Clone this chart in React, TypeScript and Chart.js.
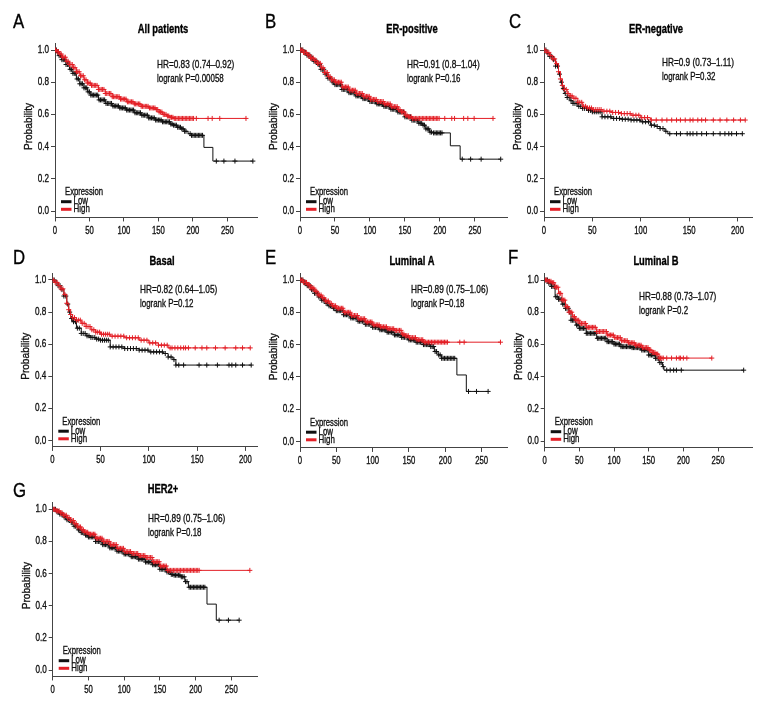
import React, { useEffect, useRef } from 'react';
import { Chart, registerables } from 'chart.js';
Chart.register(...registerables);

const FONT = "'Liberation Sans', Arial, sans-serif";
const RED = '#e31f26';
const BLACK = '#111111';
const AXIS = '#444444';

const Y_TICKS = [0, 0.2, 0.4, 0.6, 0.8, 1.0];
const X_TICKS_250 = [0, 50, 100, 150, 200, 250];
const X_TICKS_200 = [0, 50, 100, 150, 200];

// ---------- A: All patients ----------
const A_HIGH_T = [0, 3, 6, 10, 16, 21, 26, 31, 36, 42, 47, 52, 63, 73, 83, 94, 104, 115, 125, 136, 146, 151, 156, 162, 167, 172];
const A_HIGH_S = [1.0, 0.99, 0.975, 0.955, 0.93, 0.91, 0.89, 0.865, 0.84, 0.815, 0.795, 0.78, 0.755, 0.73, 0.71, 0.695, 0.678, 0.665, 0.65, 0.64, 0.63, 0.615, 0.6, 0.59, 0.582, 0.575];
const A_HIGH_C = [1, 3, 5, 7, 9, 11, 13, 15, 17, 19, 21, 23, 25, 27, 29, 31, 33, 35, 37, 39, 41, 43, 45, 47, 49, 51, 53, 55, 57, 59, 61, 63, 65, 67, 69, 71, 73, 75, 77, 79, 81, 83, 85, 87, 89, 91, 93, 95, 97, 99, 101, 103, 105, 107, 109, 111, 113, 115, 117, 119, 121, 123, 125, 127, 129, 131, 133, 135, 137, 139, 141, 143, 145, 147, 149, 151, 153, 155, 157, 159, 161, 163, 165, 167, 169, 171, 173, 175, 177, 179, 181, 183, 185, 187, 189, 191, 193, 195, 197, 199, 201, 205, 222, 228, 239, 277];
const A_LOW_T = [0, 3, 6, 10, 16, 21, 26, 31, 36, 42, 47, 52, 63, 73, 83, 94, 104, 115, 125, 136, 146, 156, 167, 172, 177, 183, 188, 193, 198, 216, 229];
const A_LOW_S = [1.0, 0.985, 0.965, 0.94, 0.91, 0.88, 0.855, 0.82, 0.79, 0.765, 0.74, 0.72, 0.69, 0.668, 0.652, 0.64, 0.627, 0.61, 0.595, 0.578, 0.565, 0.554, 0.54, 0.533, 0.52, 0.51, 0.495, 0.48, 0.47, 0.395, 0.31];
const A_LOW_C = [2, 4, 6, 8, 10, 12, 14, 16, 18, 20, 22, 24, 26, 28, 30, 32, 34, 36, 38, 40, 42, 44, 46, 48, 50, 52, 54, 56, 58, 60, 62, 64, 66, 68, 70, 72, 74, 76, 78, 80, 82, 84, 86, 88, 90, 92, 94, 96, 98, 100, 102, 104, 106, 108, 110, 112, 114, 116, 118, 120, 122, 124, 126, 128, 130, 132, 134, 136, 138, 140, 142, 144, 146, 148, 150, 152, 154, 156, 158, 160, 162, 164, 166, 168, 170, 172, 174, 176, 178, 180, 182, 184, 186, 188, 190, 196, 198, 200, 202, 204, 206, 208, 210, 212, 214, 234, 245, 261, 287];

// ---------- B: ER-positive ----------
const B_HIGH_T = [0, 5, 10, 15, 20, 25, 30, 35, 40, 45, 50, 60, 70, 80, 90, 100, 110, 120, 130, 140, 145, 150, 155, 160];
const B_HIGH_S = [1.0, 0.985, 0.97, 0.95, 0.935, 0.917, 0.89, 0.86, 0.835, 0.815, 0.8, 0.77, 0.75, 0.73, 0.712, 0.693, 0.68, 0.665, 0.648, 0.63, 0.615, 0.595, 0.585, 0.575];
const B_HIGH_C = [1, 3, 5, 7, 9, 11, 13, 15, 17, 19, 21, 23, 25, 27, 29, 31, 33, 35, 37, 39, 41, 43, 45, 47, 49, 51, 53, 55, 57, 59, 61, 63, 65, 67, 69, 71, 73, 75, 77, 79, 81, 83, 85, 87, 89, 91, 93, 95, 97, 99, 101, 103, 105, 107, 109, 111, 113, 115, 117, 119, 121, 123, 125, 127, 129, 131, 133, 135, 137, 139, 141, 143, 145, 147, 149, 151, 153, 155, 157, 159, 161, 163, 165, 167, 169, 171, 173, 175, 177, 179, 181, 183, 185, 187, 189, 191, 193, 195, 197, 199, 207, 217, 221, 234, 240, 249, 276];
const B_LOW_T = [0, 5, 10, 15, 20, 25, 30, 35, 40, 45, 50, 60, 70, 80, 90, 100, 110, 120, 130, 140, 150, 160, 170, 175, 180, 185, 190, 215, 229];
const B_LOW_S = [1.0, 0.985, 0.968, 0.948, 0.93, 0.91, 0.88, 0.85, 0.825, 0.802, 0.785, 0.755, 0.735, 0.715, 0.698, 0.68, 0.665, 0.65, 0.632, 0.615, 0.585, 0.564, 0.545, 0.533, 0.51, 0.49, 0.485, 0.405, 0.322];
const B_LOW_C = [2, 4, 6, 8, 10, 12, 14, 16, 18, 20, 22, 24, 26, 28, 30, 32, 34, 36, 38, 40, 42, 44, 46, 48, 50, 52, 54, 56, 58, 60, 62, 64, 66, 68, 70, 72, 74, 76, 78, 80, 82, 84, 86, 88, 90, 92, 94, 96, 98, 100, 102, 104, 106, 108, 110, 112, 114, 116, 118, 120, 122, 124, 126, 128, 130, 132, 134, 136, 138, 140, 142, 144, 146, 148, 150, 152, 154, 156, 158, 160, 162, 164, 166, 168, 170, 172, 174, 176, 178, 180, 182, 184, 186, 188, 191, 193, 195, 197, 199, 201, 203, 232, 244, 259, 287];

// ---------- C: ER-negative ----------
const C_HIGH_T = [0, 3, 6, 9, 12, 15, 17, 19, 21, 24, 27, 30, 35, 40, 45, 50, 60, 70, 80, 90, 100, 110];
const C_HIGH_S = [1.0, 0.985, 0.965, 0.945, 0.915, 0.865, 0.82, 0.78, 0.755, 0.73, 0.715, 0.7, 0.675, 0.65, 0.64, 0.63, 0.62, 0.612, 0.605, 0.595, 0.58, 0.565];
const C_HIGH_C = [1, 3, 5, 7, 9, 11, 13, 15, 17, 19, 21, 23, 25, 27, 29, 31, 33, 35, 37, 39, 41, 43, 45, 47, 49, 51, 53, 55, 57, 59, 62, 65, 68, 71, 74, 77, 80, 83, 86, 89, 92, 95, 98, 101, 104, 107, 111, 116, 122, 127, 132, 137, 141, 146, 151, 154, 159, 163, 167, 175, 182, 189, 196, 203, 208];
const C_LOW_T = [0, 3, 6, 9, 12, 15, 17, 19, 21, 24, 27, 30, 35, 40, 45, 50, 60, 70, 80, 90, 100, 110, 115, 120, 125, 128];
const C_LOW_S = [1.0, 0.98, 0.96, 0.94, 0.9, 0.85, 0.8, 0.76, 0.73, 0.705, 0.685, 0.668, 0.65, 0.637, 0.625, 0.616, 0.585, 0.575, 0.57, 0.565, 0.554, 0.533, 0.525, 0.512, 0.495, 0.48];
const C_LOW_C = [2, 4, 6, 8, 10, 12, 14, 16, 18, 20, 22, 24, 26, 28, 30, 32, 34, 36, 38, 40, 42, 44, 46, 48, 50, 52, 54, 56, 58, 60, 63, 66, 69, 72, 75, 78, 81, 84, 87, 90, 93, 96, 99, 102, 105, 108, 111, 114, 117, 120, 123, 126, 130, 137, 141, 148, 151, 154, 158, 163, 168, 175, 182, 187, 191, 194, 199, 205];

// ---------- D: Basal ----------
const D_HIGH_T = [0, 3, 6, 9, 12, 15, 17, 19, 21, 25, 30, 35, 40, 45, 50, 60, 75, 90, 100, 110, 120];
const D_HIGH_S = [1.0, 0.985, 0.965, 0.945, 0.91, 0.855, 0.815, 0.785, 0.765, 0.75, 0.73, 0.71, 0.69, 0.675, 0.662, 0.65, 0.64, 0.625, 0.608, 0.594, 0.577];
const D_HIGH_C = [1, 3, 5, 7, 9, 11, 13, 15, 17, 19, 21, 23, 25, 27, 29, 31, 33, 35, 37, 39, 41, 43, 45, 47, 49, 51, 53, 55, 57, 59, 62, 65, 68, 71, 74, 77, 80, 83, 86, 89, 92, 95, 98, 101, 104, 107, 110, 113, 116, 119, 122, 124, 127, 130, 133, 136, 138, 141, 148, 155, 160, 169, 179, 190, 197, 205];
const D_LOW_T = [0, 3, 6, 9, 12, 15, 17, 19, 21, 25, 30, 35, 40, 45, 50, 60, 75, 90, 100, 115, 120, 125, 128];
const D_LOW_S = [1.0, 0.985, 0.965, 0.94, 0.9, 0.85, 0.8, 0.76, 0.74, 0.7, 0.667, 0.652, 0.642, 0.632, 0.625, 0.583, 0.573, 0.563, 0.552, 0.542, 0.52, 0.504, 0.47];
const D_LOW_C = [2, 4, 6, 8, 10, 12, 14, 16, 18, 20, 22, 24, 26, 28, 30, 32, 34, 36, 38, 40, 42, 44, 46, 48, 50, 52, 54, 56, 58, 60, 63, 66, 69, 72, 75, 78, 81, 84, 87, 90, 93, 96, 99, 102, 105, 108, 111, 114, 117, 120, 123, 126, 128, 131, 136, 152, 160, 171, 183, 186, 190, 197, 206];

// ---------- E: Luminal A ----------
const E_HIGH_T = [0, 5, 10, 15, 20, 25, 30, 35, 40, 45, 50, 60, 70, 80, 90, 100, 110, 120, 130, 140, 145, 150, 160, 170];
const E_HIGH_S = [1.0, 0.985, 0.97, 0.95, 0.93, 0.907, 0.89, 0.87, 0.855, 0.84, 0.825, 0.8, 0.78, 0.76, 0.74, 0.722, 0.71, 0.698, 0.688, 0.665, 0.655, 0.643, 0.63, 0.615];
const E_HIGH_C = [1, 3, 5, 7, 9, 11, 13, 15, 17, 19, 21, 23, 25, 27, 29, 31, 33, 35, 37, 39, 41, 43, 45, 47, 49, 51, 53, 55, 57, 59, 61, 63, 65, 67, 69, 71, 73, 75, 77, 79, 81, 83, 85, 87, 89, 91, 93, 95, 97, 99, 101, 103, 105, 107, 109, 111, 113, 115, 117, 119, 121, 123, 125, 127, 129, 131, 133, 135, 137, 139, 141, 143, 145, 147, 149, 151, 153, 155, 157, 159, 161, 163, 165, 167, 169, 171, 173, 175, 177, 179, 181, 183, 185, 187, 189, 191, 193, 195, 197, 199, 201, 203, 220, 226, 276];
const E_LOW_T = [0, 5, 10, 15, 20, 25, 30, 35, 40, 45, 50, 60, 70, 80, 90, 100, 110, 120, 130, 140, 150, 160, 170, 180, 185, 190, 195, 216, 229];
const E_LOW_S = [1.0, 0.983, 0.965, 0.94, 0.918, 0.895, 0.875, 0.855, 0.84, 0.825, 0.81, 0.785, 0.765, 0.745, 0.726, 0.707, 0.692, 0.677, 0.66, 0.645, 0.629, 0.615, 0.6, 0.588, 0.557, 0.536, 0.515, 0.412, 0.31];
const E_LOW_C = [2, 4, 6, 8, 10, 12, 14, 16, 18, 20, 22, 24, 26, 28, 30, 32, 34, 36, 38, 40, 42, 44, 46, 48, 50, 52, 54, 56, 58, 60, 62, 64, 66, 68, 70, 72, 74, 76, 78, 80, 82, 84, 86, 88, 90, 92, 94, 96, 98, 100, 102, 104, 106, 108, 110, 112, 114, 116, 118, 120, 122, 124, 126, 128, 130, 132, 134, 136, 138, 140, 142, 144, 146, 148, 150, 152, 154, 156, 158, 160, 162, 164, 166, 168, 170, 172, 174, 176, 178, 180, 182, 184, 186, 188, 191, 193, 195, 197, 199, 201, 203, 205, 207, 209, 211, 213, 232, 243, 259];

// ---------- F: Luminal B ----------
const F_HIGH_T = [0, 5, 10, 15, 20, 25, 30, 35, 40, 45, 50, 60, 75, 90, 100, 110, 120, 130, 140, 150, 155, 160, 165];
const F_HIGH_S = [1.0, 0.992, 0.983, 0.955, 0.917, 0.875, 0.834, 0.8, 0.772, 0.75, 0.73, 0.706, 0.68, 0.658, 0.642, 0.623, 0.61, 0.595, 0.58, 0.565, 0.55, 0.54, 0.515];
const F_HIGH_C = [1, 3, 5, 7, 9, 11, 13, 15, 17, 19, 21, 23, 25, 27, 29, 31, 33, 35, 37, 39, 41, 43, 45, 47, 49, 51, 53, 55, 57, 59, 61, 63, 65, 67, 69, 71, 73, 75, 77, 79, 81, 83, 85, 87, 89, 91, 93, 95, 97, 99, 101, 103, 105, 107, 109, 111, 113, 115, 117, 119, 121, 123, 125, 127, 129, 131, 133, 135, 137, 139, 141, 143, 145, 147, 149, 151, 153, 155, 157, 159, 161, 163, 165, 167, 169, 171, 176, 183, 190, 194, 196, 200, 205, 241];
const F_LOW_T = [0, 5, 10, 15, 20, 25, 30, 35, 38, 45, 50, 60, 75, 90, 100, 110, 125, 140, 150, 160, 165, 170, 172];
const F_LOW_S = [1.0, 0.98, 0.96, 0.896, 0.88, 0.85, 0.824, 0.8, 0.75, 0.72, 0.7, 0.669, 0.638, 0.617, 0.602, 0.586, 0.58, 0.565, 0.534, 0.513, 0.487, 0.462, 0.44];
const F_LOW_C = [2, 4, 6, 8, 10, 12, 14, 16, 18, 20, 22, 24, 26, 28, 30, 32, 34, 36, 38, 40, 42, 44, 46, 48, 50, 52, 54, 56, 58, 60, 62, 64, 66, 68, 70, 72, 74, 76, 78, 80, 82, 84, 86, 88, 90, 92, 94, 96, 98, 100, 102, 104, 106, 108, 110, 112, 114, 116, 118, 120, 122, 124, 126, 128, 130, 132, 134, 136, 138, 140, 142, 144, 146, 148, 150, 152, 154, 156, 158, 160, 162, 164, 166, 168, 171, 176, 181, 186, 190, 197, 287];

// ---------- G: HER2+ ----------
const G_HIGH_T = [0, 5, 10, 15, 20, 25, 30, 35, 40, 45, 50, 60, 70, 80, 90, 100, 110, 120, 130, 140, 150, 160];
const G_HIGH_S = [1.0, 0.99, 0.978, 0.963, 0.948, 0.93, 0.91, 0.89, 0.872, 0.857, 0.845, 0.82, 0.8, 0.78, 0.757, 0.737, 0.725, 0.712, 0.7, 0.674, 0.647, 0.62];
const G_HIGH_C = [1, 3, 5, 7, 9, 11, 13, 15, 17, 19, 21, 23, 25, 27, 29, 31, 33, 35, 37, 39, 41, 43, 45, 47, 49, 51, 53, 55, 57, 59, 61, 63, 65, 67, 69, 71, 73, 75, 77, 79, 81, 83, 85, 87, 89, 91, 93, 95, 97, 99, 101, 103, 105, 107, 109, 111, 113, 115, 117, 119, 121, 123, 125, 127, 129, 131, 133, 135, 137, 139, 141, 143, 145, 147, 149, 151, 153, 155, 157, 159, 161, 163, 165, 167, 169, 171, 173, 175, 177, 179, 181, 183, 185, 187, 189, 191, 193, 195, 197, 199, 201, 203, 205, 276];
const G_LOW_T = [0, 5, 10, 15, 20, 25, 30, 35, 40, 45, 50, 60, 70, 80, 90, 100, 110, 120, 130, 140, 150, 160, 165, 170, 180, 185, 190, 216, 229];
const G_LOW_S = [1.0, 0.985, 0.97, 0.952, 0.935, 0.918, 0.895, 0.872, 0.855, 0.84, 0.828, 0.8, 0.78, 0.76, 0.74, 0.722, 0.705, 0.69, 0.672, 0.655, 0.627, 0.61, 0.595, 0.59, 0.58, 0.55, 0.515, 0.41, 0.31];
const G_LOW_C = [2, 4, 6, 8, 10, 12, 14, 16, 18, 20, 22, 24, 26, 28, 30, 32, 34, 36, 38, 40, 42, 44, 46, 48, 50, 52, 54, 56, 58, 60, 62, 64, 66, 68, 70, 72, 74, 76, 78, 80, 82, 84, 86, 88, 90, 92, 94, 96, 98, 100, 102, 104, 106, 108, 110, 112, 114, 116, 118, 120, 122, 124, 126, 128, 130, 132, 134, 136, 138, 140, 142, 144, 146, 148, 150, 152, 154, 156, 158, 160, 162, 164, 166, 168, 170, 172, 174, 176, 178, 180, 182, 184, 186, 188, 191, 193, 195, 197, 199, 201, 203, 205, 207, 209, 211, 213, 233, 246, 261];

type Curve = { t: number[]; s: number[]; c: number[] };

type PanelCfg = {
  key: string; title: string; hr: string; lr: string;
  high: Curve; low: Curve; xmax: number; xticks: number[];
  // layout (page coordinates)
  cx: number; cy: number; cw: number; ch: number;
  L: number; R: number; y1: number; y0: number;
  letterX: number; letterY: number; titleX: number; titleY: number; hrX: number; hrY: number;
};

const PANELS: PanelCfg[] = [
  { key: 'A', title: 'All patients', hr: 'HR=0.83 (0.74\u20130.92)', lr: 'logrank P=0.00058',
    high: { t: A_HIGH_T, s: A_HIGH_S, c: A_HIGH_C }, low: { t: A_LOW_T, s: A_LOW_S, c: A_LOW_C }, xmax: 293, xticks: X_TICKS_250,
    cx: 0, cy: 0, cw: 262, ch: 240, L: 55, R: 258, y1: 50, y0: 211,
    letterX: 13, letterY: 22, titleX: 163, titleY: 30, hrX: 157, hrY: 65 },
  { key: 'B', title: 'ER-positive', hr: 'HR=0.91 (0.8\u20131.04)', lr: 'logrank P=0.16',
    high: { t: B_HIGH_T, s: B_HIGH_S, c: B_HIGH_C }, low: { t: B_LOW_T, s: B_LOW_S, c: B_LOW_C }, xmax: 296, xticks: X_TICKS_250,
    cx: 260, cy: 0, cw: 260, ch: 240, L: 300, R: 507, y1: 50, y0: 211,
    letterX: 265, letterY: 22, titleX: 412, titleY: 30, hrX: 407, hrY: 65 },
  { key: 'C', title: 'ER-negative', hr: 'HR=0.9 (0.73\u20131.11)', lr: 'logrank P=0.32',
    high: { t: C_HIGH_T, s: C_HIGH_S, c: C_HIGH_C }, low: { t: C_LOW_T, s: C_LOW_S, c: C_LOW_C }, xmax: 215, xticks: X_TICKS_200,
    cx: 500, cy: 0, cw: 280, ch: 240, L: 544, R: 752, y1: 50, y0: 211,
    letterX: 509, letterY: 22, titleX: 656, titleY: 30, hrX: 662, hrY: 63 },
  { key: 'D', title: 'Basal', hr: 'HR=0.82 (0.64\u20131.05)', lr: 'logrank P=0.12',
    high: { t: D_HIGH_T, s: D_HIGH_S, c: D_HIGH_C }, low: { t: D_LOW_T, s: D_LOW_S, c: D_LOW_C }, xmax: 212, xticks: X_TICKS_200,
    cx: 0, cy: 240, cw: 262, ch: 240, L: 52.3, R: 257, y1: 280, y0: 440.5,
    letterX: 13, letterY: 258, titleX: 162, titleY: 262, hrX: 140, hrY: 290 },
  { key: 'E', title: 'Luminal A', hr: 'HR=0.89 (0.75\u20131.06)', lr: 'logrank P=0.18',
    high: { t: E_HIGH_T, s: E_HIGH_S, c: E_HIGH_C }, low: { t: E_LOW_T, s: E_LOW_S, c: E_LOW_C }, xmax: 285, xticks: X_TICKS_250,
    cx: 260, cy: 240, cw: 260, ch: 240, L: 300, R: 507, y1: 280, y0: 441.5,
    letterX: 265, letterY: 258, titleX: 412, titleY: 262, hrX: 411, hrY: 290 },
  { key: 'F', title: 'Luminal B', hr: 'HR=0.88 (0.73\u20131.07)', lr: 'logrank P=0.2',
    high: { t: F_HIGH_T, s: F_HIGH_S, c: F_HIGH_C }, low: { t: F_LOW_T, s: F_LOW_S, c: F_LOW_C }, xmax: 299, xticks: X_TICKS_250,
    cx: 500, cy: 240, cw: 280, ch: 240, L: 544.7, R: 752, y1: 280, y0: 441,
    letterX: 508, letterY: 258, titleX: 656, titleY: 262, hrX: 639, hrY: 297 },
  { key: 'G', title: 'HER2+', hr: 'HR=0.89 (0.75\u20131.06)', lr: 'logrank P=0.18',
    high: { t: G_HIGH_T, s: G_HIGH_S, c: G_HIGH_C }, low: { t: G_LOW_T, s: G_LOW_S, c: G_LOW_C }, xmax: 286, xticks: X_TICKS_250,
    cx: 0, cy: 480, cw: 262, ch: 240, L: 52.7, R: 258, y1: 509.3, y0: 670,
    letterX: 13, letterY: 491, titleX: 163, titleY: 490, hrX: 148, hrY: 519 },
];

function survAt(c: Curve, time: number): number {
  let v = c.s[0];
  for (let i = 0; i < c.t.length; i++) {
    if (c.t[i] <= time) v = c.s[i];
    else break;
  }
  return v;
}

function curveDatasets(c: Curve, color: string, label: string) {
  const pts = c.t.map((t, i) => ({ x: t, y: c.s[i] }));
  const lastC = Math.max(...c.c);
  if (lastC > c.t[c.t.length - 1]) pts.push({ x: lastC, y: c.s[c.s.length - 1] });
  return [
    {
      label, data: pts, borderColor: color, backgroundColor: color, borderWidth: 1,
      stepped: true, pointRadius: 0, fill: false, tension: 0,
    },
    {
      label: label + ' censored', data: c.c.map((t) => ({ x: t, y: survAt(c, t) })),
      showLine: false, pointStyle: 'cross', pointRadius: 2.5, pointBorderWidth: 1,
      borderColor: color, backgroundColor: color, pointBorderColor: color,
    },
  ];
}

// text squeezed horizontally (condensed look) and slightly emboldened
function squeezeText(ctx: CanvasRenderingContext2D, text: string, x: number, y: number, align: CanvasTextAlign, sx: number) {
  ctx.save();
  ctx.translate(x, y);
  ctx.scale(sx, 1);
  ctx.textAlign = align;
  ctx.fillText(text, 0, 0);
  ctx.lineWidth = 0.35;
  ctx.strokeStyle = ctx.fillStyle as string;
  ctx.strokeText(text, 0, 0);
  ctx.restore();
}

function makeDecor(p: PanelCfg) {
  return {
    id: 'decor' + p.key,
    afterDraw(chart: any) {
      const ctx = chart.ctx as CanvasRenderingContext2D;
      const ca = chart.chartArea;
      const ys = chart.scales.y;
      const xs = chart.scales.x;
      const ox = p.cx, oy = p.cy;
      ctx.save();
      ctx.textBaseline = 'middle';
      ctx.fillStyle = '#000';
      // panel letter
      ctx.font = `21px ${FONT}`;
      squeezeText(ctx, p.key, p.letterX - ox, p.letterY - oy, 'left', 0.8);
      // title
      ctx.font = `bold 12px ${FONT}`;
      squeezeText(ctx, p.title, p.titleX - ox, p.titleY - oy, 'center', 0.78);
      // tick labels
      ctx.fillStyle = '#111';
      ctx.font = `11px ${FONT}`;
      for (const v of Y_TICKS) {
        squeezeText(ctx, v.toFixed(1), ca.left - 6, ys.getPixelForValue(v), 'right', 0.74);
      }
      for (const v of p.xticks) {
        squeezeText(ctx, String(v), xs.getPixelForValue(v), ca.bottom + 13.5, 'center', 0.7);
      }
      // HR annotation
      ctx.font = `11px ${FONT}`;
      squeezeText(ctx, p.hr, p.hrX - ox, p.hrY - oy, 'left', 0.75);
      squeezeText(ctx, p.lr, p.hrX - ox, p.hrY + 13.5 - oy, 'left', 0.72);
      // legend
      const y0 = ys.getPixelForValue(0);
      const lx = ca.left;
      squeezeText(ctx, 'Expression', lx + 10, y0 - 19, 'left', 0.7);
      squeezeText(ctx, 'Low', lx + 18.5, y0 - 10, 'left', 0.72);
      squeezeText(ctx, 'High', lx + 18.5, y0 - 2, 'left', 0.72);
      ctx.lineWidth = 3;
      ctx.strokeStyle = BLACK;
      ctx.beginPath(); ctx.moveTo(lx + 6, y0 - 9.3); ctx.lineTo(lx + 16.5, y0 - 9.3); ctx.stroke();
      ctx.strokeStyle = RED;
      ctx.beginPath(); ctx.moveTo(lx + 6, y0 - 1.7); ctx.lineTo(lx + 16.5, y0 - 1.7); ctx.stroke();
      // y axis title
      ctx.translate(lx - 26, ys.getPixelForValue(0.5) - 4);
      ctx.rotate(-Math.PI / 2);
      squeezeText(ctx, 'Probability', 0, 0, 'center', 0.92);
      ctx.restore();
    },
  };
}

function Panel({ p }: { p: PanelCfg }) {
  const ref = useRef<HTMLCanvasElement>(null);
  useEffect(() => {
    const Wy = 30, Hx = 20;
    const span = p.y0 - p.y1;
    const top = p.y1 - 0.04 * span;
    const bottom = p.y0 + 0.04 * span;
    const chart = new Chart(ref.current as HTMLCanvasElement, {
      type: 'line',
      data: {
        datasets: [
          ...curveDatasets(p.high, RED, 'High'),
          ...curveDatasets(p.low, BLACK, 'Low'),
        ] as any,
      },
      options: {
        animation: false,
        responsive: false,
        maintainAspectRatio: false,
        events: [],
        layout: {
          padding: {
            left: p.L - p.cx - Wy,
            right: p.cx + p.cw - p.R,
            top: top - p.cy,
            bottom: p.cy + p.ch - bottom - Hx,
          },
        },
        plugins: { legend: { display: false }, tooltip: { enabled: false }, title: { display: false } },
        scales: {
          x: {
            type: 'linear', min: 0, max: p.xmax,
            afterBuildTicks: (s: any) => { s.ticks = p.xticks.map((v) => ({ value: v })); },
            afterFit: (s: any) => { s.height = Hx; },
            grid: { display: true, drawOnChartArea: false, drawTicks: true, tickLength: 4, color: AXIS },
            border: { display: true, color: AXIS, width: 1 },
            ticks: { display: false },
          },
          y: {
            type: 'linear', min: -0.04, max: 1.04,
            afterBuildTicks: (s: any) => { s.ticks = Y_TICKS.map((v) => ({ value: v })); },
            afterFit: (s: any) => { s.width = Wy; },
            grid: { display: true, drawOnChartArea: false, drawTicks: true, tickLength: 4, color: AXIS },
            border: { display: true, color: AXIS, width: 1 },
            ticks: { display: false },
          },
        },
      } as any,
      plugins: [makeDecor(p)],
    });
    return () => chart.destroy();
  }, []);
  return (
    <canvas
      ref={ref}
      width={p.cw}
      height={p.ch}
      style={{ position: 'absolute', left: p.cx, top: p.cy, width: p.cw, height: p.ch }}
    />
  );
}

export default function App() {
  return (
    <div style={{ position: 'absolute', left: 0, top: 0, width: 780, height: 720, background: '#fff' }}>
      {PANELS.map((p) => <Panel key={p.key} p={p} />)}
    </div>
  );
}
